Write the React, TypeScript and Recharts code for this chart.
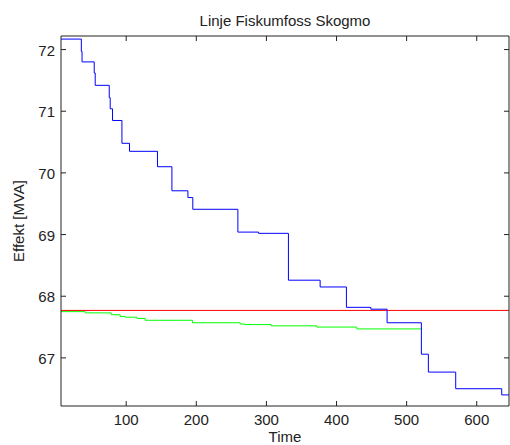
import { LineChart, Line, XAxis, YAxis } from "recharts";

const blueTime = [7, 36, 37, 54.4, 55.8, 75.8, 77.2, 80.5, 93.9, 104.7, 144.6, 165.2, 188, 195, 259.3, 288.7, 331.4, 376.6, 414.1, 448.9, 472.1, 521, 531, 570, 635.6, 646];
const blueValue = [72.17, 71.97, 71.8, 71.62, 71.42, 71.22, 71.04, 70.85, 70.48, 70.35, 70.1, 69.71, 69.6, 69.41, 69.04, 69.02, 68.26, 68.15, 67.82, 67.79, 67.57, 67.06, 66.77, 66.5, 66.4, 66.4];

const greenTime = [7, 41.6, 78.6, 91.4, 98.6, 115.3, 127.1, 194.5, 262.5, 268.6, 306.7, 371.9, 428.9, 521];
const greenValue = [67.75, 67.73, 67.7, 67.67, 67.66, 67.64, 67.61, 67.57, 67.55, 67.54, 67.52, 67.5, 67.47, 67.47];

const redTime = [7, 646];
const redValue = [67.77, 67.77];

const xTicks = [100, 200, 300, 400, 500, 600];
const yTicks = [67, 68, 69, 70, 71, 72];

const toPoints = (ts: number[], vs: number[]) => ts.map((t, i) => ({ t, v: vs[i] }));

const FONT = "'Liberation Sans', Arial, sans-serif";
const AXIS = "#222";

function BottomTick(props: any) {
  const { x, y, payload } = props;
  return (
    <g>
      <line x1={x} y1={y} x2={x} y2={y - 5} stroke={AXIS} />
      <text x={x} y={y + 19} textAnchor="middle" fontSize={15} fontFamily={FONT} fill={AXIS}>
        {payload.value}
      </text>
    </g>
  );
}

function TopTick(props: any) {
  const { x, y } = props;
  return <line x1={x} y1={y} x2={x} y2={y + 5} stroke={AXIS} />;
}

function LeftTick(props: any) {
  const { x, y, payload } = props;
  return (
    <g>
      <line x1={x} y1={y} x2={x + 5} y2={y} stroke={AXIS} />
      <text x={x - 6} y={y + 6} textAnchor="end" fontSize={15} fontFamily={FONT} fill={AXIS}>
        {payload.value}
      </text>
    </g>
  );
}

function RightTick(props: any) {
  const { x, y } = props;
  return <line x1={x} y1={y} x2={x - 5} y2={y} stroke={AXIS} />;
}

export default function App() {
  return (
    <div style={{ position: "absolute", left: 0, top: 0, width: 510, height: 445, background: "#fff" }}>
      <LineChart width={510} height={445} margin={{ top: 35, right: 0, bottom: 0, left: 0 }}>
        <XAxis
          xAxisId="bottom"
          dataKey="t"
          type="number"
          domain={[7, 646]}
          ticks={xTicks}
          allowDataOverflow
          height={39}
          tickSize={0}
          tickMargin={0}
          stroke={AXIS}
          tick={<BottomTick />}
          label={{
            content: (p: any) => (
              <text
                x={p.viewBox.x + p.viewBox.width / 2}
                y={442}
                textAnchor="middle"
                fontSize={15}
                fontFamily={FONT}
                fill={AXIS}
              >
                Time
              </text>
            ),
          }}
        />
        <XAxis
          xAxisId="top"
          orientation="top"
          dataKey="t"
          type="number"
          domain={[7, 646]}
          ticks={xTicks}
          allowDataOverflow
          height={1}
          tickSize={0}
          tickMargin={0}
          stroke={AXIS}
          tick={<TopTick />}
          label={{
            content: (p: any) => (
              <text
                x={p.viewBox.x + p.viewBox.width / 2}
                y={26}
                textAnchor="middle"
                fontSize={15}
                fontFamily={FONT}
                fill={AXIS}
              >
                Linje Fiskumfoss Skogmo
              </text>
            ),
          }}
        />
        <YAxis
          yAxisId="left"
          type="number"
          domain={[66.22, 72.22]}
          ticks={yTicks}
          allowDataOverflow
          width={61}
          tickSize={0}
          tickMargin={0}
          stroke={AXIS}
          tick={<LeftTick />}
          label={{
            content: (p: any) => {
              const cy = p.viewBox.y + p.viewBox.height / 2;
              return (
                <text
                  x={24}
                  y={cy}
                  transform={`rotate(-90, 24, ${cy})`}
                  textAnchor="middle"
                  fontSize={15}
                  fontFamily={FONT}
                  fill={AXIS}
                >
                  Effekt [MVA]
                </text>
              );
            },
          }}
        />
        <YAxis
          yAxisId="right"
          orientation="right"
          type="number"
          domain={[66.22, 72.22]}
          ticks={yTicks}
          allowDataOverflow
          width={1}
          tickSize={0}
          tickMargin={0}
          stroke={AXIS}
          tick={<RightTick />}
        />
        <Line
          xAxisId="top"
          yAxisId="right"
          data={toPoints(redTime, redValue)}
          dataKey="v"
          stroke="none"
          dot={false}
          activeDot={false}
          isAnimationActive={false}
        />
        <Line
          xAxisId="bottom"
          yAxisId="left"
          data={toPoints(redTime, redValue)}
          dataKey="v"
          type="linear"
          stroke="#ff0000"
          strokeWidth={1}
          dot={false}
          isAnimationActive={false}
        />
        <Line
          xAxisId="bottom"
          yAxisId="left"
          data={toPoints(greenTime, greenValue)}
          dataKey="v"
          type="stepAfter"
          stroke="#00ff00"
          strokeWidth={1}
          dot={false}
          isAnimationActive={false}
        />
        <Line
          xAxisId="bottom"
          yAxisId="left"
          data={toPoints(blueTime, blueValue)}
          dataKey="v"
          type="stepAfter"
          stroke="#0000ff"
          strokeWidth={1}
          dot={false}
          isAnimationActive={false}
        />
      </LineChart>
    </div>
  );
}
